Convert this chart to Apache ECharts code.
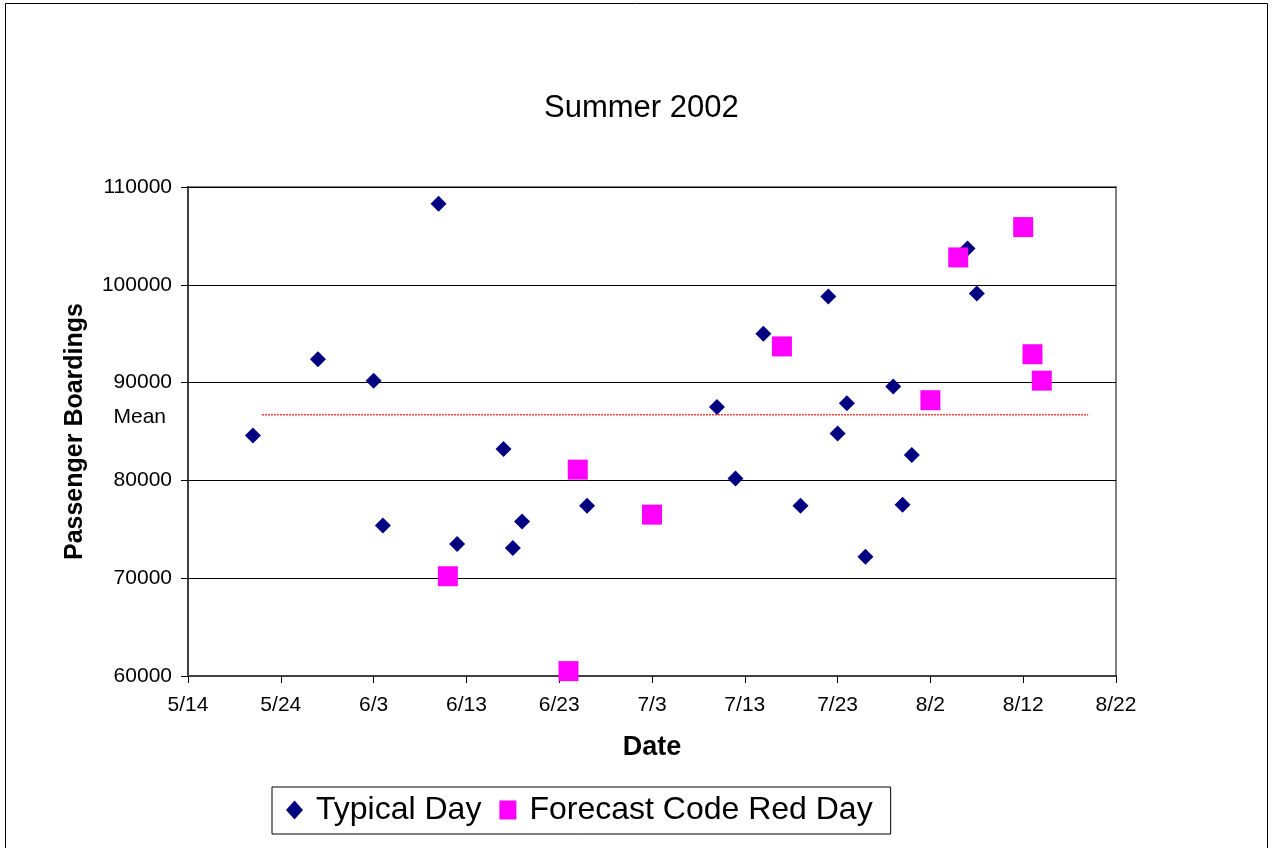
<!DOCTYPE html>
<html>
<head>
<meta charset="utf-8">
<script src="https://cdn.jsdelivr.net/npm/echarts@6/dist/echarts.min.js"></script>
<style>
html,body{margin:0;padding:0;background:#fff;}
#c{width:1272px;height:848px;}
</style>
</head>
<body>
<div id="c"></div>
<script>
// ---- data ----
const startDate = '5/14';
const typicalDates = ['5/21','5/28','6/3','6/4','6/10','6/12','6/17','6/18','6/19','6/26','7/10','7/12','7/15','7/19','7/22','7/23','7/24','7/26','7/29','7/30','7/31','8/6','8/7'];
const typicalValues = [84600,92400,90200,75400,108300,73500,83200,73100,75800,77400,87500,80200,95000,77400,98800,84800,87900,72200,89600,77500,82600,103700,99100];
const codeRedDates = ['6/11','6/24','6/25','7/3','7/17','8/2','8/5','8/12','8/13','8/14'];
const codeRedValues = [70200,60500,81100,76500,93700,88200,102800,105900,92900,90200];
const meanValue = 86700;
const meanFrom = '5/22';
const meanTo = '8/19';
const xTickLabels = ['5/14','5/24','6/3','6/13','6/23','7/3','7/13','7/23','8/2','8/12','8/22'];
const yTicks = [60000,70000,80000,90000,100000,110000];

function dayOffset(s){
  const [m,d] = s.split('/').map(Number);
  const [m0,d0] = startDate.split('/').map(Number);
  return Math.round((Date.UTC(2002,m-1,d) - Date.UTC(2002,m0-1,d0)) / 86400000);
}
const FONT = '"Liberation Sans", Arial, sans-serif';
const typicalData = typicalDates.map((d,i)=>[dayOffset(d), typicalValues[i]]);
const codeRedData = codeRedDates.map((d,i)=>[dayOffset(d), codeRedValues[i]]);
const meanData = [[dayOffset(meanFrom), meanValue],[dayOffset(meanTo), meanValue]];

const chart = echarts.init(document.getElementById('c'), null, {renderer:'canvas'});
const option = {
  animation:false,
  backgroundColor:'#fff',
  title:{
    text:'Summer 2002', left:539, top:88,
    textStyle:{fontFamily:FONT, fontSize:31, fontWeight:'normal', color:'#000'}
  },
  grid:{left:188, top:187, right:156, bottom:172, show:true, borderColor:'#808080', borderWidth:2, containLabel:false},
  xAxis:{
    type:'value', min:0, max:(xTickLabels.length-1)*10, interval:10,
    name:'Date', nameLocation:'middle', nameGap:58,
    nameTextStyle:{fontFamily:FONT, fontSize:27, fontWeight:'bold', color:'#000'},
    axisLine:{show:true, onZero:false, lineStyle:{color:'#404040', width:2}},
    axisTick:{show:true, inside:false, length:7, lineStyle:{color:'#000', width:1}},
    axisLabel:{margin:19, fontFamily:FONT, fontSize:21, color:'#000',
      formatter:v=>xTickLabels[Math.round(v/10)]},
    splitLine:{show:false}
  },
  yAxis:{
    type:'value', min:yTicks[0], max:yTicks[yTicks.length-1], interval:10000,
    name:'Passenger Boardings', nameLocation:'middle', nameGap:100,
    nameTextStyle:{fontFamily:FONT, fontSize:25, fontWeight:'bold', color:'#000'},
    axisLine:{show:true, onZero:false, lineStyle:{color:'#404040', width:2}},
    axisTick:{show:true, inside:false, length:7, lineStyle:{color:'#000', width:1}},
    axisLabel:{margin:16, fontFamily:FONT, fontSize:21, color:'#000', formatter:v=>String(v)},
    splitLine:{show:true, lineStyle:{color:'#000', width:1}}
  },
  legend:{
    left:272, top:787,
    orient:'horizontal',
    data:[{name:'Typical Day', icon:'diamond'},{name:'Forecast Code Red Day', icon:'rect'}],
    itemWidth:17, itemHeight:19, itemGap:18,
    padding:[7,18,8,14],
    borderColor:'#000', borderWidth:1,
    textStyle:{fontFamily:FONT, fontSize:32, color:'#000', padding:[0,0,0,8]}
  },
  series:[
    {
      name:'Mean', type:'line', data:meanData, symbol:'none', silent:true,
      lineStyle:{color:'#FF0000', width:1.5, type:[1.5,1.5]}, z:1
    },
    {
      name:'Typical Day', type:'scatter', data:typicalData, symbol:'diamond', symbolSize:16,
      itemStyle:{color:'#000080', opacity:1}, clip:false, z:3
    },
    {
      name:'Forecast Code Red Day', type:'scatter', data:codeRedData, symbol:'rect', symbolSize:20,
      itemStyle:{color:'#FF00FF', opacity:1}, clip:false, z:4
    }
  ]
};
chart.setOption(option);
const py = chart.convertToPixel({yAxisIndex:0}, meanValue);
chart.setOption({
  graphic:[
    {type:'rect', shape:{x:5.5, y:3.5, width:1262, height:900}, style:{fill:'none', stroke:'#000', lineWidth:1}, silent:true, z:-1},
    {type:'text', right:1272-166, top:py-8, style:{text:'Mean', fontFamily:FONT, fontSize:21, fill:'#000', textAlign:'right'}}
  ]
});
</script>
</body>
</html>
